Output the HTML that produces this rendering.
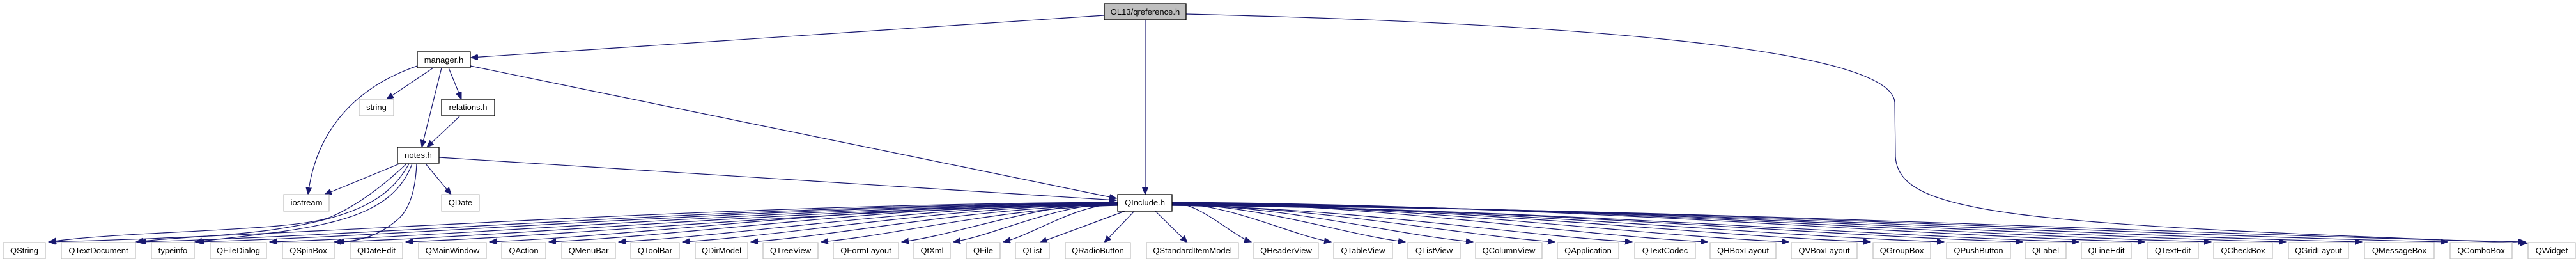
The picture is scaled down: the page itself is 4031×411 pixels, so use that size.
<!DOCTYPE html>
<html><head><meta charset="utf-8"><style>
html,body{margin:0;padding:0;background:#fff;}
svg{display:block;}
text{font-family:"Liberation Sans",sans-serif;font-size:13px;fill:#000;text-anchor:middle;}
.ext{fill:#fff;stroke:#bfbfbf;stroke-width:1.2;}
.int{fill:#fff;stroke:#000;stroke-width:1.3;}
.e{fill:none;stroke:#191970;stroke-width:1.2;}
</style></head><body>
<svg id="g" width="4031" height="411" viewBox="0 0 4031 411" xmlns="http://www.w3.org/2000/svg">
<defs><marker id="a" markerUnits="userSpaceOnUse" markerWidth="12" markerHeight="10" refX="11" refY="4.5" orient="auto"><path d="M0,0 L11,4.5 L0,9 z" fill="#191970" stroke="#191970"/></marker></defs>
<g id="edges"></g>
<rect x="1728" y="6" width="128" height="25" fill="#bfbfbf" stroke="#000" stroke-width="1.3"/><text x="1792" y="23">OL13/qreference.h</text>
<rect class="int" x="653" y="81" width="83" height="25"/><text x="694.5" y="98">manager.h</text>
<rect class="ext" x="562" y="155" width="54" height="26"/><text x="589" y="172">string</text>
<rect class="int" x="691" y="155" width="83" height="26"/><text x="732.5" y="172">relations.h</text>
<rect class="int" x="622" y="230" width="65" height="25"/><text x="654.5" y="247">notes.h</text>
<rect class="ext" x="444" y="304" width="71" height="26"/><text x="479.5" y="321">iostream</text>
<rect class="ext" x="691" y="304" width="59" height="26"/><text x="720.5" y="321">QDate</text>
<rect class="int" x="1749" y="304" width="85" height="26"/><text x="1791.5" y="321">QInclude.h</text>
<g id="bot">
<rect class="ext" x="5" y="379" width="66" height="25"/><text x="38" y="396">QString</text>
<rect class="ext" x="96" y="379" width="116" height="25"/><text x="154" y="396">QTextDocument</text>
<rect class="ext" x="237" y="379" width="67" height="25"/><text x="270.5" y="396">typeinfo</text>
<rect class="ext" x="329" y="379" width="88" height="25"/><text x="373" y="396">QFileDialog</text>
<rect class="ext" x="442" y="379" width="81" height="25"/><text x="482.5" y="396">QSpinBox</text>
<rect class="ext" x="548" y="379" width="82" height="25"/><text x="589" y="396">QDateEdit</text>
<rect class="ext" x="655" y="379" width="106" height="25"/><text x="708" y="396">QMainWindow</text>
<rect class="ext" x="785" y="379" width="69" height="25"/><text x="819.5" y="396">QAction</text>
<rect class="ext" x="879" y="379" width="84" height="25"/><text x="921" y="396">QMenuBar</text>
<rect class="ext" x="987" y="379" width="76" height="25"/><text x="1025" y="396">QToolBar</text>
<rect class="ext" x="1088" y="379" width="82" height="25"/><text x="1129" y="396">QDirModel</text>
<rect class="ext" x="1194" y="379" width="86" height="25"/><text x="1237" y="396">QTreeView</text>
<rect class="ext" x="1304" y="379" width="102" height="25"/><text x="1355" y="396">QFormLayout</text>
<rect class="ext" x="1430" y="379" width="57" height="25"/><text x="1458.5" y="396">QtXml</text>
<rect class="ext" x="1512" y="379" width="53" height="25"/><text x="1538.5" y="396">QFile</text>
<rect class="ext" x="1589" y="379" width="53" height="25"/><text x="1615.5" y="396">QList</text>
<rect class="ext" x="1667" y="379" width="102" height="25"/><text x="1718" y="396">QRadioButton</text>
<rect class="ext" x="1794" y="379" width="144" height="25"/><text x="1866" y="396">QStandardItemModel</text>
<rect class="ext" x="1962" y="379" width="101" height="25"/><text x="2012.5" y="396">QHeaderView</text>
<rect class="ext" x="2087" y="379" width="92" height="25"/><text x="2133" y="396">QTableView</text>
<rect class="ext" x="2203" y="379" width="82" height="25"/><text x="2244" y="396">QListView</text>
<rect class="ext" x="2309" y="379" width="104" height="25"/><text x="2361" y="396">QColumnView</text>
<rect class="ext" x="2437" y="379" width="96" height="25"/><text x="2485" y="396">QApplication</text>
<rect class="ext" x="2558" y="379" width="95" height="25"/><text x="2605.5" y="396">QTextCodec</text>
<rect class="ext" x="2676" y="379" width="103" height="25"/><text x="2727.5" y="396">QHBoxLayout</text>
<rect class="ext" x="2803" y="379" width="103" height="25"/><text x="2854.5" y="396">QVBoxLayout</text>
<rect class="ext" x="2931" y="379" width="90" height="25"/><text x="2976" y="396">QGroupBox</text>
<rect class="ext" x="3046" y="379" width="100" height="25"/><text x="3096" y="396">QPushButton</text>
<rect class="ext" x="3169" y="379" width="64" height="25"/><text x="3201" y="396">QLabel</text>
<rect class="ext" x="3257" y="379" width="78" height="25"/><text x="3296" y="396">QLineEdit</text>
<rect class="ext" x="3360" y="379" width="80" height="25"/><text x="3400" y="396">QTextEdit</text>
<rect class="ext" x="3464" y="379" width="92" height="25"/><text x="3510" y="396">QCheckBox</text>
<rect class="ext" x="3581" y="379" width="94" height="25"/><text x="3628" y="396">QGridLayout</text>
<rect class="ext" x="3700" y="379" width="109" height="25"/><text x="3754.5" y="396">QMessageBox</text>
<rect class="ext" x="3834" y="379" width="97" height="25"/><text x="3882.5" y="396">QComboBox</text>
<rect class="ext" x="3956" y="379" width="74" height="25"/><text x="3993" y="396">QWidget</text>
</g>
</svg>
<script>
(function(){
var g=document.getElementById('edges'),ns='http://www.w3.org/2000/svg';
function P(d){var p=document.createElementNS(ns,'path');p.setAttribute('d',d);p.setAttribute('class','e');p.setAttribute('marker-end','url(#a)');g.appendChild(p);}
var rs=document.querySelectorAll('#bot rect');
rs.forEach(function(r,i){
 var x1=+r.getAttribute('x'),x2=x1+ +r.getAttribute('width'),cx=(x1+x2)/2;
 if(cx<1700){
  var ex=x2+5,sx=1749,sy=316+ (i%6);
  if(cx>1550){P('M1760,330 L'+(cx+12)+',379');return;}
  P('M'+sx+','+sy+' C'+(sx-(sx-ex)*0.4)+','+(sy+4)+' '+(ex+(sx-ex)*0.25)+',368 '+ex+',378');
 } else if(cx<2000){
  P('M'+(cx<1866?1775:1808)+',330 L'+(cx<1866?cx+10:cx-8)+',379');
 } else {
  var ex=x1-4,sx=1834,sy=316+(i%6);
  if(cx<2200 && cx>2050 && x1<2100){}
  P('M'+sx+','+sy+' C'+(sx+(ex-sx)*0.4)+','+(sy+4)+' '+(ex-(ex-sx)*0.25)+',368 '+ex+',378');
 }
});
P('M1728,24 L737,90');
P('M1792,31 L1792,304');
P('M1856,22 C2400,35 2960,70 2965,160 L2966,245 C2972,335 3150,350 3955,380');
P('M736,103 L1747,310');
P('M687,246 L1747,313');
P('M653,103 C560,135 495,200 482,304');
P('M678,106 L605,155');
P('M691,106 L660,230');
P('M702,106 L722,155');
P('M720,181 L668,230');
P('M625,256 L508,304');
P('M666,256 L706,304');
P('M636,256 C600,290 560,320 520,338 C470,362 200,360 77,378');
P('M640,256 C610,310 560,340 420,360 C340,370 260,372 213,378');
P('M645,256 C620,320 560,345 440,362 C380,370 340,374 305,378');
P('M652,256 C650,300 640,330 620,345 C590,370 560,378 523,378');
})();
</script>
</body></html>
